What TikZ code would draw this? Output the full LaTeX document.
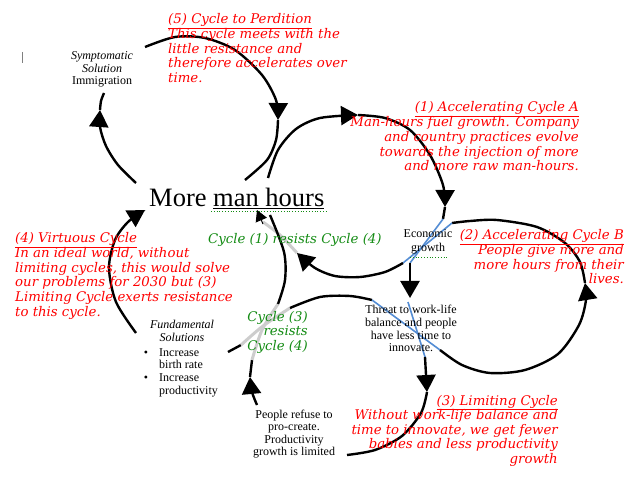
\documentclass[tikz,border=0pt]{standalone}
\usepackage{fontspec}
\setmainfont{Liberation Serif}
\newfontfamily\scr{DejaVu Serif}
\usetikzlibrary{arrows.meta}
\definecolor{bluel}{RGB}{84,141,212}
\definecolor{grayl}{RGB}{205,205,205}
\definecolor{cgreen}{RGB}{20,140,20}
\begin{document}
\begin{tikzpicture}[x=1pt,y=-1pt,
  arc/.style={line width=2.4pt},
  grayarc/.style={line width=3pt, draw=grayl},
  bluearc/.style={line width=1.6pt, draw=bluel},
  bigtip/.style={-{Triangle[length=17pt,width=19pt]}},
  redtxt/.style={text=red, inner sep=0pt, font=\scr\itshape\fontsize{13.3}{14.6}\selectfont},
  greentxt/.style={text=cgreen, inner sep=0pt, font=\scr\itshape\fontsize{13.3}{14.6}\selectfont},
  blk/.style={inner sep=0pt, font=\fontsize{12}{13}\selectfont},
  blki/.style={blk, font=\fontsize{12}{13}\selectfont\itshape},
  big/.style={inner sep=0pt, font=\fontsize{26.5}{30}\selectfont}]
\fill[white] (0,0) rectangle (640,478);
\useasboundingbox (0,0) rectangle (640,478);

% ---------- arcs ----------
% cycle 5
\draw[arc,bigtip] plot[smooth] coordinates {(136,183) (118,165) (106,146) (100,127) (100,110)};
\draw[arc] plot[smooth] coordinates {(100,110) (101,101) (104,93)};
\draw[arc,bigtip] plot[smooth] coordinates {(145,47) (175,37) (205,38) (235,50) (262,75) (276,100) (278,120)};
\draw[arc] plot[smooth] coordinates {(278,120) (276,140) (267,160) (245,180)};
% cycle 1 outer
\draw[arc,bigtip] plot[smooth] coordinates {(268,178) (278,150) (296,129) (320,118) (358,115)};
\draw[arc,bigtip] plot[smooth] coordinates {(358,115) (385,118) (410,130) (430,155) (443,185) (445,207)};
\draw[arc] (445,207) -- (443,219);
\draw[bluearc] (443,219) -- (410,263);
\draw[arc,bigtip] (410,263) -- (410,298);
% threat to limiting
\draw[bluearc] (408,302) -- (425,357);
\draw[arc,bigtip] (425,357) -- (427,392);
\draw[arc] plot[smooth] coordinates {(427,392) (421,413) (402,436) (375,450) (347,455)};
% cycle 3 arc and loop of cycle 2
\draw[arc] (228,352) -- (241,345);
\draw[grayarc] plot[smooth] coordinates {(241,345) (263,326) (290,308)};
\draw[arc] plot[smooth] coordinates {(290,308) (320,297) (350,296) (372,300)};
\draw[bluearc] (372,300) -- (440,350);
\draw[arc,bigtip] plot[smooth] coordinates {(440,350) (462,365) (490,373) (525,370) (558,354) (579,325) (586,300) (585,283)};
\draw[arc] plot[smooth] coordinates {(585,283) (580,262) (565,243) (537,227) (497,220) (470,221) (452,223)};
\draw[bluearc] (452,223) -- (403,263);
\draw[arc,bigtip] plot[smooth] coordinates {(403,263) (385,272) (360,277) (335,276) (315,268) (297,253)};
\draw[grayarc] plot[smooth] coordinates {(297,253) (280,235) (263,222)};
\draw[line width=1pt,-{Triangle[length=11pt,width=12pt]}] (263,224) -- (257,210);
% cycle 4 right side
\draw[arc,bigtip] plot[smooth] coordinates {(257,405) (252,392) (250,377)};
\draw[arc] (250,377) -- (252,360);
\draw[grayarc] plot[smooth] coordinates {(252,360) (262,330) (278,304)};
\draw[arc] plot[smooth] coordinates {(278,304) (285,280) (284,252) (270,215)};
% cycle 4 left side
\draw[arc,bigtip] plot[smooth] coordinates {(136,333) (116,302) (109,268) (115,240) (128,222) (145,210)};

% cursor mark
\draw[gray, line width=0.7pt] (22,52) -- (22,63);

% ---------- red texts ----------
\foreach \t [count=\i from 0] in {{\underline{(5) Cycle to Perdition}},{This cycle meets with the},{little resistance and},{therefore accelerates over},{time.}}
  \node[redtxt, anchor=base west] (p5-\i) at (168,24+14.6*\i) {\t};
\foreach \t [count=\i from 0] in {{\underline{(1) Accelerating Cycle A}},{Man-hours fuel growth. Company},{and country practices evolve},{towards the injection of more},{and more raw man-hours.}}
  \node[redtxt, anchor=base east] (p1-\i) at (579,112+14.7*\i) {\t};
\foreach \t [count=\i from 0] in {{\underline{(2) Accelerating Cycle B}},{People give more and},{more hours from their},{lives.}}
  \node[redtxt, anchor=base east] (p2-\i) at (624,240+14.6*\i) {\t};
\foreach \t [count=\i from 0] in {{\underline{(4) Virtuous Cycle}},{In an ideal world, without},{limiting cycles, this would solve},{our problems for 2030 but (3)},{Limiting Cycle exerts resistance},{to this cycle.}}
  \node[redtxt, anchor=base west] (p4-\i) at (15,243+14.6*\i) {\t};
\foreach \t [count=\i from 0] in {{\underline{(3) Limiting Cycle}},{Without work-life balance and},{time to innovate, we get fewer},{babies and less productivity},{growth}}
  \node[redtxt, anchor=base east] (p3-\i) at (558,405+14.5*\i) {\t};

% ---------- green texts ----------
\node[greentxt, anchor=base west] (g1) at (208,244) {Cycle (1) resists Cycle (4)};
\foreach \t [count=\i from 0] in {{Cycle (3)},{resists},{Cycle (4)}}
  \node[greentxt, anchor=base east] (g3-\i) at (308,322+14*\i) {\t};

% ---------- black texts ----------
\node[blki, anchor=base] (sym) at (102,60) {Symptomatic};
\node[blki, anchor=base] (sol) at (102,72.5) {Solution};
\node[blk, anchor=base] (imm) at (102,85) {Immigration};

\node[big, anchor=base west] (mmh) at (149,207) {More \underline{man hours}};
\draw[cgreen, line width=0.8pt, dotted] (211,211.5) -- (326,211.5);

\node[blk, anchor=base] (eco) at (428,238) {Economic};
\node[blk, anchor=base] (gro) at (428,252) {growth};
\draw[cgreen, line width=0.8pt, dotted] (410,257) -- (447,257);

\foreach \t [count=\i from 0] in {{Threat to work-life},{balance and people},{have less time to},{innovate.}}
  \node[blk, anchor=base] (th-\i) at (411,314+12.6*\i) {\t};

\node[blki, anchor=base] (fun) at (182,329) {Fundamental};
\node[blki, anchor=base] (fso) at (182,341.7) {Solutions};
\node[blk, anchor=base] (b1) at (146,356) {•};
\node[blk, anchor=base] (b2) at (146,381.7) {•};
\node[blk, anchor=base west] (i1) at (159,356) {Increase};
\node[blk, anchor=base west] (i2) at (159,368) {birth rate};
\node[blk, anchor=base west] (i3) at (159,381.7) {Increase};
\node[blk, anchor=base west] (i4) at (159,394) {productivity};

\foreach \t [count=\i from 0] in {{People refuse to},{pro-create.},{Productivity},{growth is limited}}
  \node[blk, anchor=base] (pr-\i) at (294,418.5+12.3*\i) {\t};
\end{tikzpicture}
\end{document}
